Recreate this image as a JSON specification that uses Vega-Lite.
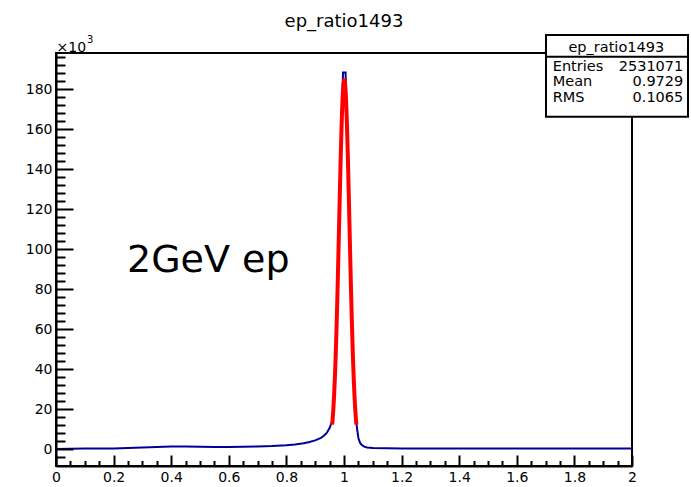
{
  "$schema": "https://vega.github.io/schema/vega-lite/v6.json",
  "width": 576,
  "height": 413,
  "autosize": "none",
  "padding": {"left": 56, "top": 53, "right": 59, "bottom": 21},
  "background": "white",
  "config": {"view": {"stroke": "black", "strokeWidth": 2}, "font": "DejaVu Sans"},
  "title": {"text": "ep_ratio1493", "font": "DejaVu Sans", "fontSize": 18, "fontWeight": "normal", "color": "black", "anchor": "middle", "baseline": "alphabetic", "offset": -11},
  "datasets": {
    "hist": [
      {"x": 0, "count": 0.05}, {"x": 0.05, "count": 0.15}, {"x": 0.1, "count": 0.2}, {"x": 0.15, "count": 0.25},
      {"x": 0.2, "count": 0.3}, {"x": 0.25, "count": 0.45}, {"x": 0.3, "count": 0.7}, {"x": 0.35, "count": 1.0},
      {"x": 0.4, "count": 1.2}, {"x": 0.45, "count": 1.2}, {"x": 0.5, "count": 1.1}, {"x": 0.55, "count": 1.0},
      {"x": 0.6, "count": 1.0}, {"x": 0.65, "count": 1.1}, {"x": 0.7, "count": 1.3}, {"x": 0.75, "count": 1.5},
      {"x": 0.8, "count": 1.9}, {"x": 0.83, "count": 2.3}, {"x": 0.86, "count": 2.9}, {"x": 0.88, "count": 3.5},
      {"x": 0.9, "count": 4.3}, {"x": 0.92, "count": 5.6}, {"x": 0.93, "count": 6.6}, {"x": 0.94, "count": 8.0},
      {"x": 0.95, "count": 10.5}, {"x": 0.955, "count": 12.5}, {"x": 0.959, "count": 14}, {"x": 0.961, "count": 16},
      {"x": 0.966, "count": 28}, {"x": 0.971, "count": 46}, {"x": 0.976, "count": 70}, {"x": 0.981, "count": 100},
      {"x": 0.986, "count": 131}, {"x": 0.991, "count": 159}, {"x": 0.995, "count": 178}, {"x": 0.9965, "count": 188.3},
      {"x": 1.0055, "count": 188.3}, {"x": 1.007, "count": 178}, {"x": 1.011, "count": 159}, {"x": 1.016, "count": 131},
      {"x": 1.021, "count": 100}, {"x": 1.026, "count": 70}, {"x": 1.031, "count": 46}, {"x": 1.036, "count": 28},
      {"x": 1.041, "count": 16}, {"x": 1.045, "count": 10.5}, {"x": 1.05, "count": 5.5}, {"x": 1.055, "count": 3.3},
      {"x": 1.06, "count": 2.2}, {"x": 1.07, "count": 1.2}, {"x": 1.08, "count": 0.8}, {"x": 1.1, "count": 0.5},
      {"x": 1.15, "count": 0.35}, {"x": 1.2, "count": 0.3}, {"x": 1.3, "count": 0.3}, {"x": 1.4, "count": 0.25},
      {"x": 1.5, "count": 0.25}, {"x": 1.6, "count": 0.2}, {"x": 1.7, "count": 0.2}, {"x": 1.8, "count": 0.2},
      {"x": 1.9, "count": 0.2}, {"x": 2.0, "count": 0.2}
    ],
    "fit": [
      {"x": 0.959, "f": 12.2}, {"x": 0.961, "f": 15.7}, {"x": 0.9635, "f": 21.1}, {"x": 0.966, "f": 27.9},
      {"x": 0.9685, "f": 36.2}, {"x": 0.971, "f": 46.1}, {"x": 0.9735, "f": 57.6}, {"x": 0.976, "f": 70.5},
      {"x": 0.9785, "f": 84.7}, {"x": 0.981, "f": 99.8}, {"x": 0.9835, "f": 115.3}, {"x": 0.986, "f": 130.7},
      {"x": 0.9885, "f": 145.4}, {"x": 0.991, "f": 158.5}, {"x": 0.9935, "f": 169.6}, {"x": 0.996, "f": 178.0},
      {"x": 0.9985, "f": 183.2}, {"x": 1.001, "f": 185}, {"x": 1.0035, "f": 183.2}, {"x": 1.006, "f": 178.0},
      {"x": 1.0085, "f": 169.6}, {"x": 1.011, "f": 158.5}, {"x": 1.0135, "f": 145.4}, {"x": 1.016, "f": 130.7},
      {"x": 1.0185, "f": 115.3}, {"x": 1.021, "f": 99.8}, {"x": 1.0235, "f": 84.7}, {"x": 1.026, "f": 70.5},
      {"x": 1.0285, "f": 57.6}, {"x": 1.031, "f": 46.1}, {"x": 1.0335, "f": 36.2}, {"x": 1.036, "f": 27.9},
      {"x": 1.0385, "f": 21.1}, {"x": 1.041, "f": 15.7}, {"x": 1.043, "f": 12.2}
    ],
    "stats": [
      {"stat": "Entries", "value": "2531071"},
      {"stat": "Mean", "value": "0.9729"},
      {"stat": "RMS", "value": "0.1065"}
    ],
    "boxtitle": [{"name": "ep_ratio1493"}],
    "label": [{"text": "2GeV ep"}],
    "exponent": [{"text": "3"}]
  },
  "layer": [
    {
      "data": {"name": "hist"},
      "mark": {"type": "line", "color": "#000099", "strokeWidth": 2},
      "encoding": {
        "x": {"field": "x", "type": "quantitative", "scale": {"domain": [0, 2], "nice": false, "zero": false},
          "axis": {"orient": "bottom", "values": [0, 0.2, 0.4, 0.6, 0.8, 1, 1.2, 1.4, 1.6, 1.8, 2], "format": ".1~f", "title": null,
            "grid": false, "tickSize": -11, "tickWidth": 2, "tickColor": "black", "domain": true, "domainColor": "black", "domainWidth": 2,
            "labelFont": "DejaVu Sans", "labelFontSize": 14, "labelColor": "black", "labelPadding": 15, "labelFlush": false, "labelOverlap": false, "zindex": 1}},
        "y": {"field": "count", "type": "quantitative", "scale": {"domain": [-8.5, 198], "nice": false, "zero": false},
          "axis": {"orient": "left", "values": [0, 20, 40, 60, 80, 100, 120, 140, 160, 180], "format": "d",
            "title": "×10", "titleAngle": 0, "titleX": 0, "titleY": -2, "titleAlign": "left", "titleBaseline": "alphabetic",
            "titleFont": "DejaVu Sans", "titleFontSize": 14, "titleFontWeight": "normal", "titleColor": "black",
            "grid": false, "tickSize": -17, "tickWidth": 2, "tickColor": "black", "domain": true, "domainColor": "black", "domainWidth": 2,
            "labelFont": "DejaVu Sans", "labelFontSize": 14, "labelColor": "black", "labelPadding": 21, "labelOverlap": false, "zindex": 1}}
      }
    },
    {
      "data": {"name": "fit"},
      "mark": {"type": "line", "color": "#ff0000", "strokeWidth": 4},
      "encoding": {
        "x": {"field": "x", "type": "quantitative", "scale": {"domain": [0, 2], "nice": false, "zero": false},
          "axis": {"orient": "bottom", "values": [0.05, 0.1, 0.15, 0.25, 0.3, 0.35, 0.45, 0.5, 0.55, 0.65, 0.7, 0.75, 0.85, 0.9, 0.95, 1.05, 1.1, 1.15, 1.25, 1.3, 1.35, 1.45, 1.5, 1.55, 1.65, 1.7, 1.75, 1.85, 1.9, 1.95],
            "title": null, "labels": false, "grid": false, "domain": false, "tickSize": -5.5, "tickWidth": 2, "tickColor": "black", "zindex": 1}},
        "y": {"field": "f", "type": "quantitative", "scale": {"domain": [-8.5, 198], "nice": false, "zero": false},
          "axis": {"orient": "left", "values": [-4, 4, 8, 12, 16, 24, 28, 32, 36, 44, 48, 52, 56, 64, 68, 72, 76, 84, 88, 92, 96, 104, 108, 112, 116, 124, 128, 132, 136, 144, 148, 152, 156, 164, 168, 172, 176, 184, 188, 192, 196],
            "title": null, "labels": false, "grid": false, "domain": false, "tickSize": -9, "tickWidth": 2, "tickColor": "black", "zindex": 1}}
      }
    },
    {
      "data": {"name": "label"},
      "mark": {"type": "text", "font": "DejaVu Sans", "fontSize": 38, "align": "left", "baseline": "alphabetic", "color": "black"},
      "encoding": {
        "x": {"datum": 0.2465, "type": "quantitative", "scale": {"domain": [0, 2], "nice": false, "zero": false}, "axis": null},
        "y": {"datum": 88.5, "type": "quantitative", "scale": {"domain": [-8.5, 198], "nice": false, "zero": false}, "axis": null},
        "text": {"field": "text"}
      }
    },
    {
      "data": {"name": "exponent"},
      "mark": {"type": "text", "font": "DejaVu Sans", "fontSize": 10, "align": "left", "baseline": "alphabetic", "color": "black"},
      "encoding": {
        "x": {"datum": 0.1076, "type": "quantitative", "scale": {"domain": [0, 2], "nice": false, "zero": false}, "axis": null},
        "y": {"datum": 203, "type": "quantitative", "scale": {"domain": [-8.5, 198], "nice": false, "zero": false}, "axis": null},
        "text": {"field": "text"}
      }
    },
    {
      "data": {"name": "boxtitle"},
      "mark": {"type": "rect", "fill": "white", "stroke": "black", "strokeWidth": 2},
      "encoding": {
        "x": {"datum": 1.7014, "type": "quantitative", "scale": {"domain": [0, 2], "nice": false, "zero": false}, "axis": null},
        "x2": {"datum": 2.1944},
        "y": {"datum": 207, "type": "quantitative", "scale": {"domain": [-8.5, 198], "nice": false, "zero": false}, "axis": null},
        "y2": {"datum": 166.15}
      }
    },
    {
      "data": {"name": "boxtitle"},
      "mark": {"type": "rule", "stroke": "black", "strokeWidth": 2},
      "encoding": {
        "x": {"datum": 1.7014, "type": "quantitative", "scale": {"domain": [0, 2], "nice": false, "zero": false}, "axis": null},
        "x2": {"datum": 2.1944},
        "y": {"datum": 196.15, "type": "quantitative", "scale": {"domain": [-8.5, 198], "nice": false, "zero": false}, "axis": null}
      }
    },
    {
      "data": {"name": "boxtitle"},
      "mark": {"type": "text", "font": "DejaVu Sans", "fontSize": 14.5, "align": "center", "baseline": "alphabetic", "color": "black"},
      "encoding": {
        "x": {"datum": 1.9455, "type": "quantitative", "scale": {"domain": [0, 2], "nice": false, "zero": false}, "axis": null},
        "y": {"datum": 198.65, "type": "quantitative", "scale": {"domain": [-8.5, 198], "nice": false, "zero": false}, "axis": null},
        "text": {"field": "name"}
      }
    },
    {
      "data": {"name": "stats"},
      "mark": {"type": "text", "font": "DejaVu Sans", "fontSize": 14.5, "align": "left", "baseline": "alphabetic", "color": "black"},
      "encoding": {
        "x": {"datum": 1.7247, "type": "quantitative", "scale": {"domain": [0, 2], "nice": false, "zero": false}, "axis": null},
        "y": {"field": "stat", "type": "nominal", "sort": null, "scale": {"type": "point", "range": [17.5, 48.5], "padding": 0}, "axis": null},
        "text": {"field": "stat"}
      }
    },
    {
      "data": {"name": "stats"},
      "mark": {"type": "text", "font": "DejaVu Sans", "fontSize": 14.5, "align": "right", "baseline": "alphabetic", "color": "black"},
      "encoding": {
        "x": {"datum": 2.1781, "type": "quantitative", "scale": {"domain": [0, 2], "nice": false, "zero": false}, "axis": null},
        "y": {"field": "stat", "type": "nominal", "sort": null, "scale": {"type": "point", "range": [17.5, 48.5], "padding": 0}, "axis": null},
        "text": {"field": "value"}
      }
    }
  ],
  "resolve": {"scale": {"y": "independent"}, "axis": {"x": "independent", "y": "independent"}}
}
